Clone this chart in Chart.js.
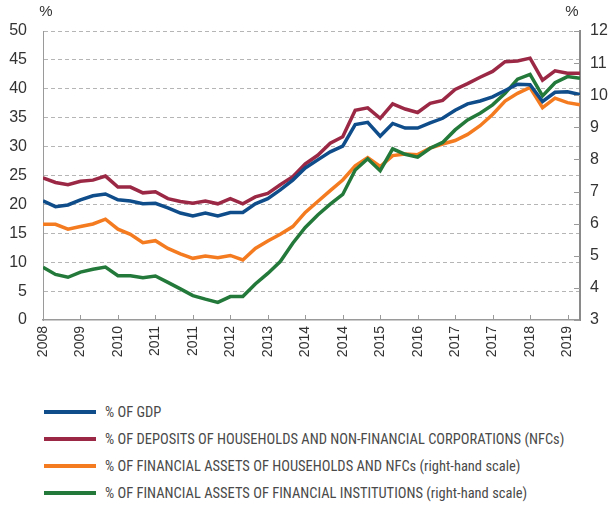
<!DOCTYPE html>
<html>
<head>
<meta charset="utf-8">
<script src="https://cdn.jsdelivr.net/npm/chart.js@4"></script>
<style>
  body { margin: 0; background: #fff; }
  #wrap { position: relative; width: 614px; height: 506px; }
  #legend { position: absolute; left: 44px; top: 401px; font-family: "Roboto Condensed", "DejaVu Sans Condensed", sans-serif; font-size: 14.5px; color: #4a4a4a; }
  #legend div { height: 27px; line-height: 24px; white-space: nowrap; }
  #legend span.ln { display: inline-block; width: 52px; height: 4px; vertical-align: middle; margin-right: 9px; position: relative; top: -1px; }
</style>
</head>
<body>
<div id="wrap">
  <canvas id="myChart" width="614" height="380"></canvas>
  <div id="legend"></div>
</div>
<script>
// tick labels shown every 3rd point on the x axis
var tickLabels = ['2008','2009','2010','2011','2011','2012','2013','2014','2014','2015','2016','2017','2017','2018','2019'];

var seriesNames = [
  '% OF GDP',
  '% OF DEPOSITS OF HOUSEHOLDS AND NON-FINANCIAL CORPORATIONS (NFCs)',
  '% OF FINANCIAL ASSETS OF HOUSEHOLDS AND NFCs (right-hand scale)',
  '% OF FINANCIAL ASSETS OF FINANCIAL INSTITUTIONS (right-hand scale)'
];

// left-hand scale
var gdp = [20.6, 19.6, 19.9, 20.8, 21.5, 21.8, 20.8, 20.6, 20.1, 20.2, 19.4,
  18.5, 18.0, 18.5, 18.0, 18.6, 18.6, 20.1, 21.0, 22.5, 24.2,
  26.3, 27.7, 29.1, 30.1, 33.8, 34.2, 31.8, 34.0, 33.2, 33.2, 34.1,
  34.9, 36.3, 37.4, 37.9, 38.6, 39.7, 40.8, 40.7, 37.8, 39.4, 39.5, 39.0];

var deposits = [24.6, 23.8, 23.4, 24.0, 24.2, 24.9, 23.0, 23.0, 22.0, 22.2, 21.0,
  20.5, 20.2, 20.6, 20.1, 21.0, 20.1, 21.3, 21.9, 23.4, 24.8,
  27.0, 28.5, 30.6, 31.7, 36.3, 36.7, 34.9, 37.4, 36.5, 35.9, 37.5,
  38.0, 39.9, 40.9, 42.0, 43.0, 44.7, 44.8, 45.3, 41.5, 43.1, 42.7, 42.7];

// right-hand scale
var assetsHh = [5.98, 5.98, 5.83, 5.91, 5.99, 6.14, 5.83, 5.67, 5.41, 5.47, 5.23,
  5.06, 4.92, 4.99, 4.94, 5.01, 4.87, 5.23, 5.46, 5.67, 5.91,
  6.35, 6.69, 7.03, 7.36, 7.80, 8.06, 7.78, 8.12, 8.17, 8.15, 8.35,
  8.48, 8.59, 8.78, 9.05, 9.40, 9.82, 10.06, 10.24, 9.61, 9.91, 9.77, 9.70];

var assetsFi = [4.64, 4.42, 4.33, 4.49, 4.58, 4.65, 4.38, 4.38, 4.32, 4.37, 4.17,
  3.97, 3.76, 3.65, 3.55, 3.73, 3.73, 4.12, 4.45, 4.82, 5.39,
  5.88, 6.27, 6.61, 6.91, 7.67, 8.02, 7.65, 8.33, 8.16, 8.07, 8.35,
  8.53, 8.92, 9.23, 9.44, 9.70, 10.06, 10.50, 10.65, 9.98, 10.39, 10.58, 10.53];

var colors = ['#0f4c8a', '#9b2945', '#f47b20', '#23793a'];

function pts(arr) {
  return arr.map(function(v, i){ return {x: i, y: v}; });
}

var tickColor = '#9a9a9a';
var tickFont = { family: '"Liberation Sans", Arial, sans-serif', size: 16 };

// small ticks pointing into the plot, plus the "%" labels
var extras = {
  id: 'extras',
  afterDraw: function(chart) {
    var ctx = chart.ctx, a = chart.chartArea;
    var xs = chart.scales.x, yr = chart.scales.y1;
    ctx.save();
    ctx.strokeStyle = tickColor;
    ctx.lineWidth = 1;
    ctx.beginPath();
    xs.ticks.forEach(function(t){
      var px = Math.round(xs.getPixelForValue(t.value)) + 0.5;
      ctx.moveTo(px, a.bottom);
      ctx.lineTo(px, a.bottom - 5);
    });
    yr.ticks.forEach(function(t){
      var py = Math.round(yr.getPixelForValue(t.value)) + 0.5;
      ctx.moveTo(a.right, py);
      ctx.lineTo(a.right - 6, py);
    });
    ctx.stroke();

    ctx.fillStyle = '#333';
    ctx.font = '15px "Liberation Sans", Arial, sans-serif';
    ctx.textAlign = 'center';
    ctx.textBaseline = 'middle';
    ctx.fillText('%', a.left + 3, a.top - 19);
    ctx.fillText('%', a.right - 8, a.top - 19);
    ctx.restore();
  }
};

var ctx = document.getElementById('myChart').getContext('2d');
var chart = new Chart(ctx, {
  type: 'line',
  data: {
    datasets: [
      { label: seriesNames[0], data: pts(gdp), yAxisID: 'y', borderColor: colors[0], order: 1 },
      { label: seriesNames[1], data: pts(deposits), yAxisID: 'y', borderColor: colors[1], order: 2 },
      { label: seriesNames[2], data: pts(assetsHh), yAxisID: 'y1', borderColor: colors[2], order: 4 },
      { label: seriesNames[3], data: pts(assetsFi), yAxisID: 'y1', borderColor: colors[3], order: 3 }
    ]
  },
  options: {
    responsive: false,
    animation: false,
    datasets: { line: { borderWidth: 3.5, pointRadius: 0, pointHoverRadius: 0, tension: 0, fill: false } },
    layout: { padding: { left: 8, right: 6, top: 31, bottom: 23 } },
    plugins: { legend: { display: false }, tooltip: { enabled: false } },
    scales: {
      x: {
        type: 'linear', min: 0, max: gdp.length - 1,
        grid: { display: false, drawTicks: false },
        border: { display: true, color: tickColor, width: 1.5 },
        ticks: {
          stepSize: 3, includeBounds: false, autoSkip: false,
          minRotation: 90, maxRotation: 90, padding: 6,
          color: '#333', font: { family: '"Liberation Sans", Arial, sans-serif', size: 14 },
          callback: function(v){ return v % 3 === 0 ? tickLabels[v / 3] : ''; }
        },
        afterFit: function(s){ s.height = 37; }
      },
      y: {
        position: 'left', min: 0, max: 50,
        grid: {
          drawTicks: false,
          color: function(c){ return c.tick && c.tick.value === 0 ? 'rgba(0,0,0,0)' : '#b5b5b5'; }
        },
        border: { display: true, color: tickColor, width: 1, dash: [4, 3] },
        ticks: { stepSize: 5, padding: 16, color: '#333', font: tickFont },
        afterFit: function(s){ s.width = 35; }
      },
      y1: {
        position: 'right', min: 3, max: 12,
        grid: { drawOnChartArea: false, drawTicks: false },
        border: { display: true, color: '#8a8a8a', width: 2 },
        ticks: { stepSize: 1, padding: 10, color: '#333', font: tickFont },
        afterFit: function(s){ s.width = 28; }
      }
    }
  },
  plugins: [extras]
});

// legend below the chart
var lg = document.getElementById('legend');
seriesNames.forEach(function(name, i){
  var row = document.createElement('div');
  row.innerHTML = '<span class="ln" style="background:' + colors[i] + '"></span>' + name;
  lg.appendChild(row);
});
</script>
</body>
</html>
